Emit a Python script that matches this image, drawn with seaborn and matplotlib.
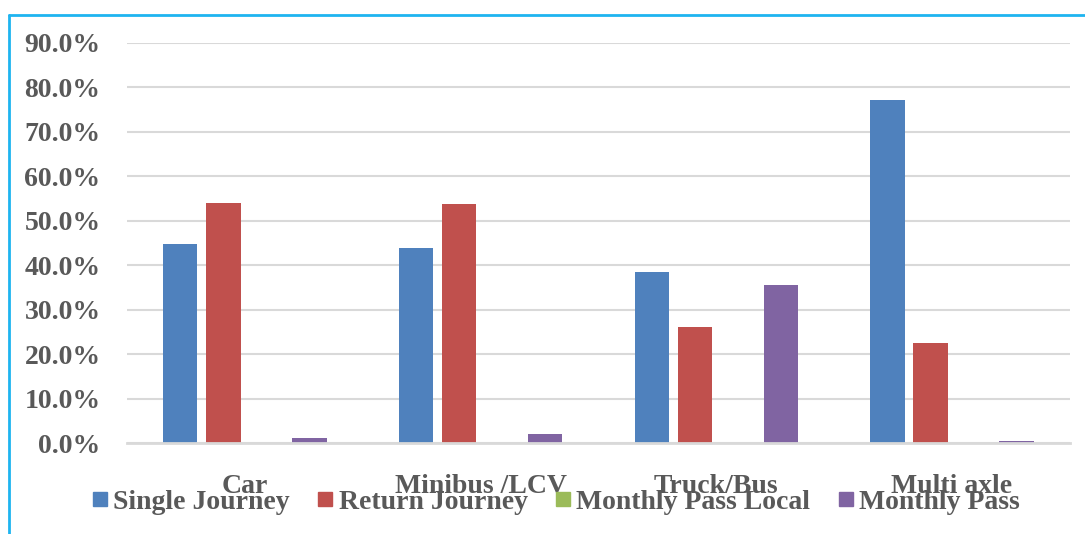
import pandas as pd
import numpy as np
import matplotlib.pyplot as plt
import seaborn as sns
from matplotlib.ticker import PercentFormatter
from matplotlib.lines import Line2D

# Data (percent share of each payment type per vehicle class)
vehicles = ["Car", "Minibus /LCV", "Truck/Bus", "Multi axle"]
series = ["Single Journey", "Return Journey", "Monthly Pass Local", "Monthly Pass"]
single_journey = [44.7, 43.9, 38.5, 77.2]
return_journey = [53.9, 53.8, 26.0, 22.4]
monthly_pass_local = [0.0, 0.0, 0.0, 0.0]
monthly_pass = [1.1, 2.0, 35.5, 0.45]
colors = ["#4F81BD", "#C0504D", "#9BBB59", "#8064A2"]

df = pd.DataFrame({
    "Vehicle": vehicles * 4,
    "Type": np.repeat(series, len(vehicles)),
    "Share": single_journey + return_journey + monthly_pass_local + monthly_pass,
})

sns.set_style("white")
plt.rcParams["font.family"] = ["Liberation Serif", "DejaVu Serif"]
plt.rcParams["font.weight"] = "bold"
text_color = "#595959"

fig = plt.figure(figsize=(10.85, 5.34), dpi=100)
ax = fig.add_axes([0.117, 0.1704, 0.869, 0.7491])

sns.barplot(data=df, x="Vehicle", y="Share", hue="Type", hue_order=series,
            order=vehicles, palette=colors, saturation=1, width=0.73, gap=0.2,
            linewidth=0, legend=False, ax=ax)

ax.set_ylim(0, 90)
ax.set_yticks(np.arange(0, 91, 10))
ax.yaxis.set_major_formatter(PercentFormatter(xmax=100, decimals=1))
ax.grid(axis="y", color="#D9D9D9", linewidth=1.5)
ax.set_axisbelow(True)
for s in ["top", "right", "left"]:
    ax.spines[s].set_visible(False)
ax.spines["bottom"].set_color("#D9D9D9")
ax.spines["bottom"].set_linewidth(2)
ax.set_xlabel("")
ax.set_ylabel("")
ax.tick_params(axis="y", length=0, pad=19, labelsize=20, labelcolor=text_color)
ax.tick_params(axis="x", length=0, pad=22, labelsize=20, labelcolor=text_color)
for lbl in ax.get_xticklabels() + ax.get_yticklabels():
    lbl.set_fontweight("bold")

handles = [Line2D([], [], marker="s", linestyle="", markersize=10,
                  markerfacecolor=c, markeredgecolor=c) for c in colors]
fig.legend(handles, series, loc="center left", bbox_to_anchor=(0.075, 0.060),
           ncol=4, frameon=False, handlelength=0.55, handletextpad=0.2,
           columnspacing=1.0, prop={"size": 20, "weight": "bold"},
           labelcolor=text_color, borderaxespad=0)

# light blue frame on the left and top
fig.add_artist(Line2D([9 / 1085, 9 / 1085], [0, 1 - 15 / 534], color="#1EB4F0",
                      linewidth=2, transform=fig.transFigure))
fig.add_artist(Line2D([9 / 1085, 1], [1 - 15 / 534, 1 - 15 / 534], color="#1EB4F0",
                      linewidth=2, transform=fig.transFigure))

fig.savefig("out.png", dpi=100)
